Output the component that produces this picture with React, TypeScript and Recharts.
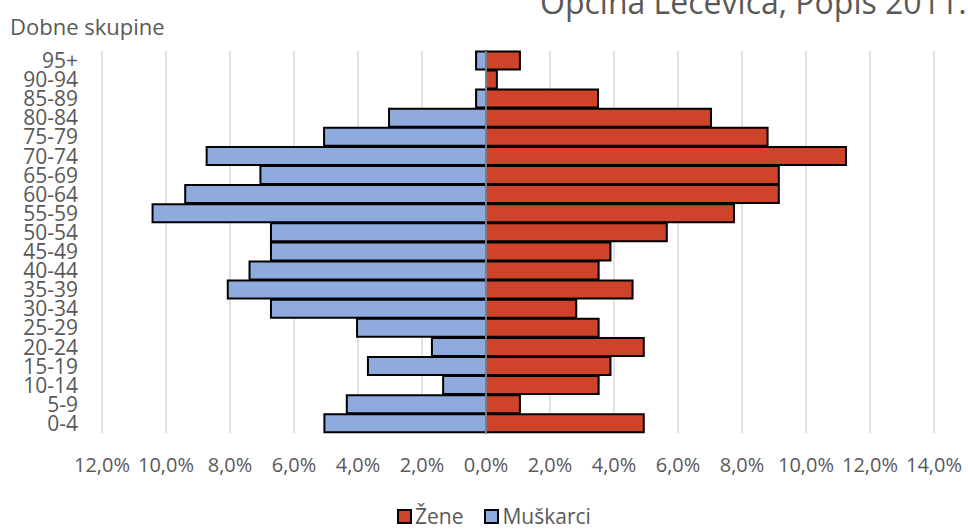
import React from "react";
import {
  BarChart,
  Bar,
  XAxis,
  YAxis,
  CartesianGrid,
  ReferenceLine,
} from "recharts";

// age groups, bottom to top
const ageGroups = [
  "0-4", "5-9", "10-14", "15-19", "20-24", "25-29", "30-34", "35-39", "40-44", "45-49",
  "50-54", "55-59", "60-64", "65-69", "70-74", "75-79", "80-84", "85-89", "90-94", "95+",
];

// share of total population, %
const menShare = [
  5.05, 4.35, 1.34, 3.69, 1.69, 4.03, 6.72, 8.07, 7.39, 6.72,
  6.72, 10.42, 9.4, 7.05, 8.73, 5.06, 3.03, 0.31, 0, 0.31,
];
const womenShare = [
  4.93, 1.06, 3.52, 3.89, 4.93, 3.52, 2.82, 4.58, 3.52, 3.89,
  5.65, 7.75, 9.15, 9.15, 11.25, 8.8, 7.03, 3.5, 0.34, 1.06,
];

const xTicks = [-12, -10, -8, -6, -4, -2, 0, 2, 4, 6, 8, 10, 12, 14];

const data = ageGroups.map((age, i) => ({
  age,
  Muškarci: -menShare[i],
  Žene: womenShare[i],
}));

const FONT = "'Open Sans', sans-serif";
const TEXT = "#595959";
const RED = "#D0432B";
const BLUE = "#8FAADC";

const fmtPct = (v: number) => Math.abs(v).toFixed(1).replace(".", ",") + "%";

const LegendBox = () => (
  <div
    style={{
      position: "absolute",
      left: 397,
      top: 502,
      display: "flex",
      alignItems: "center",
      fontFamily: FONT,
      fontSize: 21,
      color: TEXT,
      whiteSpace: "nowrap",
    }}
  >
    <span style={{ width: 11, height: 11, background: RED, border: "2px solid #000", marginRight: 3 }} />
    <span style={{ marginRight: 21 }}>Žene</span>
    <span style={{ width: 11, height: 11, background: BLUE, border: "2px solid #000", marginRight: 3 }} />
    <span>Muškarci</span>
  </div>
);

export default function App() {
  return (
    <div style={{ position: "absolute", left: 0, top: 0, width: 968, height: 529, background: "#fff", overflow: "hidden" }}>
      <div
        style={{
          position: "absolute",
          left: 540,
          top: -20,
          fontFamily: FONT,
          fontSize: 32,
          color: TEXT,
          whiteSpace: "nowrap",
        }}
      >
        Općina Lećevica, Popis 2011.
      </div>
      <div
        style={{
          position: "absolute",
          left: 10,
          top: 11,
          fontFamily: FONT,
          fontSize: 22,
          color: TEXT,
          whiteSpace: "nowrap",
        }}
      >
        Dobne skupine
      </div>
      <BarChart
        width={968}
        height={529}
        data={data}
        layout="vertical"
        stackOffset="sign"
        barCategoryGap="2%"
        margin={{ top: 51, right: 34, left: 0, bottom: 0 }}
      >
        <CartesianGrid horizontal={false} stroke="#D9D9D9" strokeWidth={1.5} />
        <XAxis
          type="number"
          domain={[-12, 14]}
          ticks={xTicks}
          tickFormatter={fmtPct}
          axisLine={false}
          tickLine={false}
          tickSize={0}
          tickMargin={25}
          interval={0}
          height={96}
          tick={{ fill: TEXT, fontSize: 20, fontFamily: FONT }}
        />
        <YAxis
          type="category"
          dataKey="age"
          reversed
          width={102}
          axisLine={false}
          tickLine={false}
          tickSize={0}
          tickMargin={24}
          interval={0}
          tick={{ fill: TEXT, fontSize: 21, fontFamily: FONT }}
        />
        <Bar dataKey="Žene" stackId="a" fill={RED} stroke="#000" strokeWidth={2} isAnimationActive={false} />
        <Bar dataKey="Muškarci" stackId="a" fill={BLUE} stroke="#000" strokeWidth={2} isAnimationActive={false} />
        <ReferenceLine x={0} stroke="#A6A6A6" strokeWidth={1.5} />
      </BarChart>
      <LegendBox />
    </div>
  );
}
